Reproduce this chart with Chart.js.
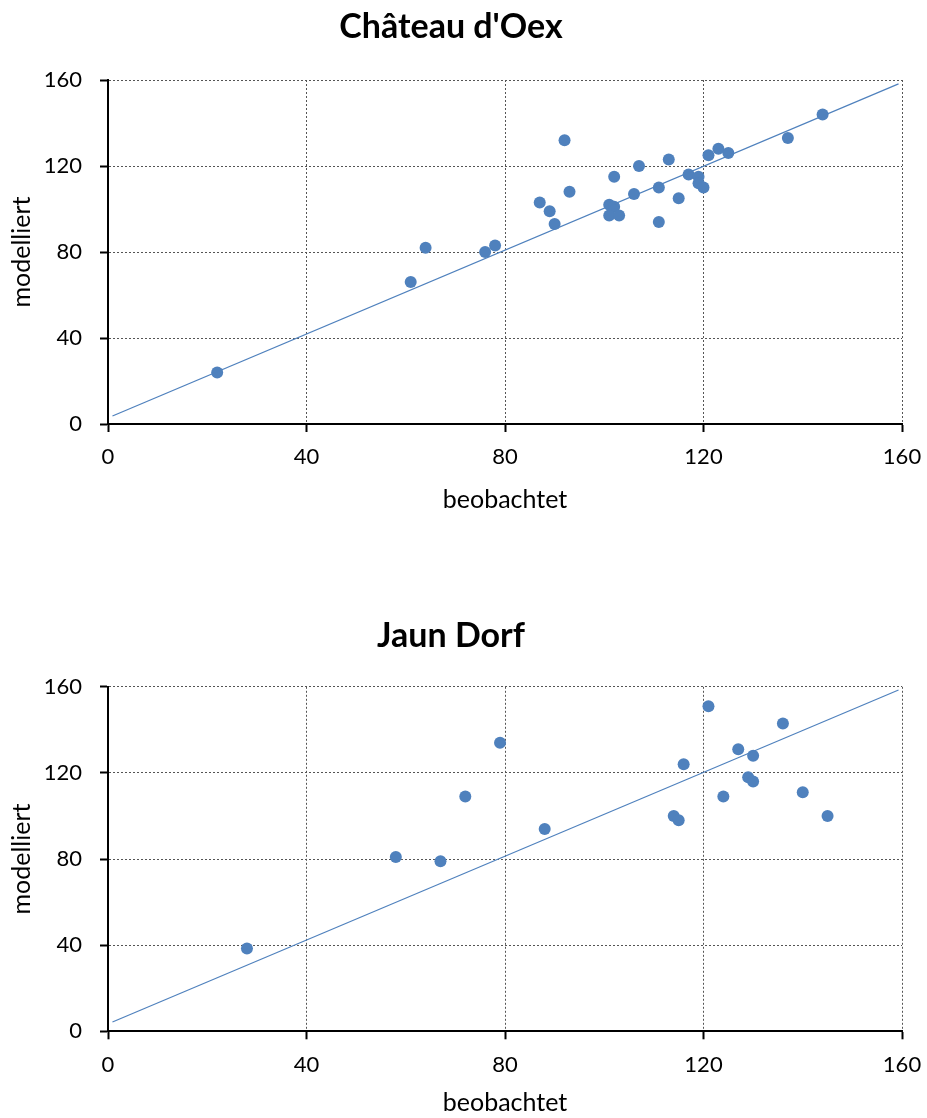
<!DOCTYPE html>
<html>
<head>
<meta charset="utf-8">
<script src="https://cdn.jsdelivr.net/npm/chart.js@4"></script>
<style>
  html, body { margin: 0; padding: 0; background: #fff; }
  body { width: 927px; height: 1118px; position: relative; overflow: hidden; }
  canvas { position: absolute; left: 0; }
</style>
</head>
<body>
<canvas id="oexChart" width="927" height="540" style="top:0"></canvas>
<canvas id="jaunChart" width="927" height="558" style="top:560px"></canvas>
<script>
// Château d'Oex: observed vs modelled
const oexObs = [22, 61, 64, 76, 78, 87, 89, 90, 92, 93, 101, 102, 102, 101, 103, 106, 107, 111, 111, 113, 115, 117, 119, 119, 120, 121, 123, 125, 137, 144];
const oexMod = [24, 66, 82, 80, 83, 103, 99, 93, 132, 108, 102, 115, 101, 97, 97, 107, 120, 110, 94, 123, 105, 116, 115, 112, 110, 125, 128, 126, 133, 144];
const oexTrendX = [0.9, 159.3];
const oexTrendY = [3.7, 158.2];

// Jaun Dorf: observed vs modelled
const jaunObs = [28, 58, 67, 72, 79, 88, 116, 114, 115, 121, 124, 127, 130, 129, 130, 136, 140, 145];
const jaunMod = [38.5, 81, 79, 109, 134, 94, 124, 100, 98, 151, 109, 131, 128, 118, 116, 143, 111, 100];
const jaunTrendX = [0.9, 159.3];
const jaunTrendY = [4.3, 158.5];

const axisTicks = [0, 40, 80, 120, 160];

const blue = '#4f81bd';
const fontFamily = 'Lato, "Open Sans", sans-serif';

function toPoints(xs, ys) {
    return xs.map((x, i) => ({ x: x, y: ys[i] }));
}

function axisOptions(titleText, titlePadding, fit) {
    return {
        type: 'linear',
        min: 0,
        max: 160,
        afterBuildTicks: axis => { axis.ticks = axisTicks.map(v => ({ value: v })); },
        afterFit: fit,
        ticks: { color: '#000', font: { family: fontFamily, size: 22 } },
        grid: {
            color: '#555',
            lineWidth: 1,
            drawTicks: true,
            tickLength: 8,
            tickColor: '#000',
            tickWidth: 2
        },
        border: { display: true, color: '#000', width: 2, dash: [2, 2] },
        title: {
            display: true,
            text: titleText,
            color: '#000',
            font: { family: fontFamily, size: 25 },
            padding: titlePadding
        }
    };
}

function makeChart(canvasId, titleText, obs, mod, trendX, trendY, layout) {
    const ctx = document.getElementById(canvasId).getContext('2d');
    const xScale = axisOptions('beobachtet', { top: 0, bottom: layout.xTitleBottom }, scale => {
        scale.height = layout.xAxisHeight;
        scale.paddingLeft = 0;
        scale.paddingRight = 0;
    });
    xScale.ticks.padding = 12;
    const yScale = axisOptions('modelliert', { top: 7, bottom: 0 }, scale => {
        scale.width = 108;
        scale.paddingTop = 0;
        scale.paddingBottom = 0;
    });
    yScale.ticks.padding = 18;

    return new Chart(ctx, {
        type: 'scatter',
        data: {
            datasets: [
                {
                    label: 'Trend',
                    data: toPoints(trendX, trendY),
                    showLine: true,
                    borderColor: blue,
                    borderWidth: 1.2,
                    pointRadius: 0,
                    pointHoverRadius: 0
                },
                {
                    label: titleText,
                    data: toPoints(obs, mod),
                    backgroundColor: blue,
                    borderColor: blue,
                    borderWidth: 0,
                    pointRadius: 6
                }
            ]
        },
        options: {
            responsive: false,
            animation: false,
            devicePixelRatio: 1,
            layout: { padding: { left: 0, right: 25, top: 0, bottom: 0 } },
            plugins: {
                legend: { display: false },
                tooltip: { enabled: false },
                title: {
                    display: true,
                    text: titleText,
                    color: '#000',
                    font: { family: fontFamily, size: 34, weight: 'bold' },
                    padding: layout.titlePadding
                }
            },
            scales: { x: xScale, y: yScale }
        }
    });
}

makeChart('oexChart', "Château d'Oex", oexObs, oexMod, oexTrendX, oexTrendY, {
    titlePadding: { top: 7, bottom: 32.2 },
    xAxisHeight: 116,
    xTitleBottom: 25
});

makeChart('jaunChart', 'Jaun Dorf', jaunObs, jaunMod, jaunTrendX, jaunTrendY, {
    titlePadding: { top: 56, bottom: 30 },
    xAxisHeight: 86.7,
    xTitleBottom: 0
});
</script>
</body>
</html>
